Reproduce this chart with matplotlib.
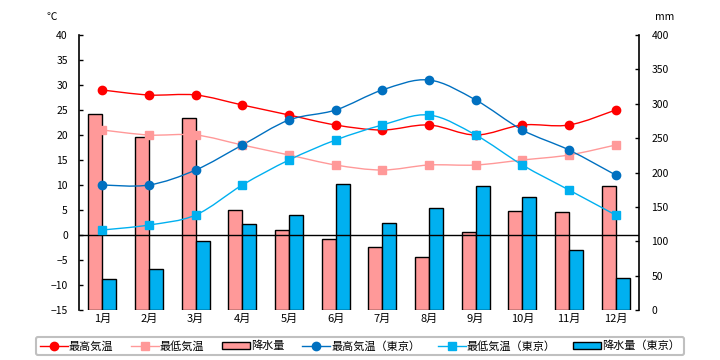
import matplotlib
matplotlib.use("Agg")
import matplotlib.pyplot as plt
import numpy as np
from matplotlib.path import Path
from matplotlib.patches import PathPatch, Rectangle
from matplotlib.lines import Line2D

plt.rcParams['font.family'] = ['Noto Sans CJK JP', 'DejaVu Sans']

months = ['1月', '2月', '3月', '4月', '5月', '6月', '7月', '8月', '9月', '10月', '11月', '12月']
max_temp = [29, 28, 28, 26, 24, 22, 21, 22, 20, 22, 22, 25]
min_temp = [21, 20, 20, 18, 16, 14, 13, 14, 14, 15, 16, 18]
precip = [285, 251, 280, 146, 117, 103, 91, 77, 114, 144, 142, 181]
tokyo_max = [10, 10, 13, 18, 23, 25, 29, 31, 27, 21, 17, 12]
tokyo_min = [1, 2, 4, 10, 15, 19, 22, 24, 20, 14, 9, 4]
tokyo_precip = [45, 59, 100, 125, 138, 184, 126, 148, 180, 164, 88, 46]

labels = ['最高気温', '最低気温', '降水量', '最高気温（東京）', '最低気温（東京）', '降水量（東京）']

c_red = '#FF0000'
c_pink = '#FF9999'
c_blue = '#0070C0'
c_cyan = '#00B0F0'
bg = '#FFFFCC'

fig = plt.figure(figsize=(7.2, 3.6), dpi=100)
ax = fig.add_axes([79/720, 50/360, 560/720, 275/360])
ax2 = ax.twinx()
ax.set_zorder(ax2.get_zorder() + 1)
ax.patch.set_visible(False)
ax2.patch.set_facecolor(bg)

x = np.arange(len(months))
w = 0.3
ax2.bar(x - w/2, precip, width=w, color=c_pink, edgecolor='black', linewidth=1.0)
ax2.bar(x + w/2, tokyo_precip, width=w, color=c_cyan, edgecolor='black', linewidth=1.0)
ax2.set_ylim(0, 400)
ax2.set_yticks(np.arange(0, 401, 50))

ax.set_xlim(-0.5, 11.5)
ax.set_ylim(-15, 40)
ax.set_yticks(np.arange(-15, 41, 5))
ax.set_xticks(x)
ax.set_xticklabels(months)
ax.axhline(0, color='black', linewidth=1.0, zorder=1)


def smooth(axis, xs, ys, color, marker, ms):
    xs = np.asarray(xs, float)
    ys = np.asarray(ys, float)
    pts = np.column_stack([xs, ys])
    verts = [pts[0]]
    codes = [Path.MOVETO]
    n = len(pts)
    for i in range(n - 1):
        p0 = pts[i - 1] if i > 0 else pts[i]
        p1 = pts[i]
        p2 = pts[i + 1]
        p3 = pts[i + 2] if i + 2 < n else pts[i + 1]
        c1 = p1 + (p2 - p0) / 6.0
        c2 = p2 - (p3 - p1) / 6.0
        verts += [c1, c2, p2]
        codes += [Path.CURVE4] * 3
    patch = PathPatch(Path(verts, codes), facecolor='none', edgecolor=color, linewidth=1.0, zorder=3)
    axis.add_patch(patch)
    axis.plot(xs, ys, linestyle='none', marker=marker, color=color, markersize=ms, zorder=4)


smooth(ax, x, max_temp, c_red, 'o', 6)
smooth(ax, x, min_temp, c_pink, 's', 6)
smooth(ax, x, tokyo_max, c_blue, 'o', 6)
smooth(ax, x, tokyo_min, c_cyan, 's', 6)

for a in (ax, ax2):
    a.spines['top'].set_visible(False)
    a.spines['bottom'].set_visible(False)
ax.spines['right'].set_visible(False)
ax2.spines['left'].set_visible(False)
ax.spines['left'].set_linewidth(1.2)
ax2.spines['right'].set_linewidth(1.2)

ax.tick_params(axis='y', direction='in', length=3, width=1, pad=8, labelsize=7.5)
ax.tick_params(axis='x', length=0, pad=3, labelsize=8)
ax2.tick_params(axis='y', direction='in', length=3, width=1, pad=9, labelsize=7.5)

fig.text(52/720, 1 - 17/360, '℃', ha='center', va='center', fontsize=7.5)
fig.text(665/720, 1 - 17/360, 'mm', ha='center', va='center', fontsize=7.5)

handles = [
    Line2D([], [], color=c_red, marker='o', markersize=6, linewidth=1),
    Line2D([], [], color=c_pink, marker='s', markersize=6, linewidth=1),
    Rectangle((0, 0), 1, 1, facecolor=c_pink, edgecolor='black', linewidth=1),
    Line2D([], [], color=c_blue, marker='o', markersize=6, linewidth=1),
    Line2D([], [], color=c_cyan, marker='s', markersize=6, linewidth=1),
    Rectangle((0, 0), 1, 1, facecolor=c_cyan, edgecolor='black', linewidth=1),
]
leg = fig.legend(handles, labels, ncol=6, loc='center', bbox_to_anchor=(360/720, 1 - 346/360),
                 frameon=True, fancybox=True, fontsize=8, handlelength=2.5, handletextpad=0.1,
                 columnspacing=1.6, borderpad=0.35, edgecolor='#C0C0C0')
leg.get_frame().set_linewidth(1.5)
leg.get_frame().set_alpha(1)

fig.savefig('out.png', dpi=100)
